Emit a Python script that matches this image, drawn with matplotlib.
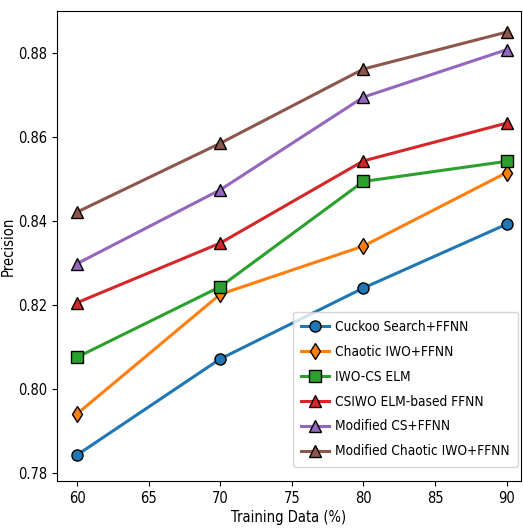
import matplotlib
matplotlib.use("Agg")
import matplotlib.pyplot as plt

training = [60, 70, 80, 90]
cuckoo = [0.7842, 0.8071, 0.8240, 0.8392]
chaotic_iwo = [0.7940, 0.8225, 0.8340, 0.8515]
iwo_cs_elm = [0.8075, 0.8243, 0.8494, 0.8542]
csiwo_elm = [0.8205, 0.8347, 0.8543, 0.8633]
modified_cs = [0.8298, 0.8474, 0.8695, 0.8808]
modified_chaotic = [0.8421, 0.8585, 0.8762, 0.8850]

labels = ["Cuckoo Search+FFNN", "Chaotic IWO+FFNN", "IWO-CS ELM",
          "CSIWO ELM-based FFNN", "Modified CS+FFNN", "Modified Chaotic IWO+FFNN"]
series = [cuckoo, chaotic_iwo, iwo_cs_elm, csiwo_elm, modified_cs, modified_chaotic]
markers = ["o", "d", "s", "^", "^", "^"]
colors = ["#1f77b4", "#ff7f0e", "#2ca02c", "#d62728", "#9467bd", "#8c564b"]

plt.rcParams['font.family'] = ['DejaVu Sans']
plt.rcParams['font.stretch'] = 'condensed'
fs = 10.5
lfs = 9.8

fig = plt.figure(figsize=(5.23, 5.30), dpi=100)
ax = fig.add_axes([0.109, 0.0925, 0.887, 0.8865])

for vals, lab, m, c in zip(series, labels, markers, colors):
    ax.plot(training, vals, marker=m, color=c, label=lab, linewidth=2.2,
            markersize=8, markeredgecolor="black", markeredgewidth=1.0)

ax.set_xlim(58.6, 91.0)
ax.set_ylim(0.778, 0.890)
ax.set_xticks([60, 65, 70, 75, 80, 85, 90])
ax.set_yticks([0.78, 0.80, 0.82, 0.84, 0.86, 0.88])
ax.tick_params(labelsize=fs)
ax.set_xlabel("Training Data (%)", fontsize=fs, labelpad=3)
ax.set_ylabel("Precision", fontsize=fs, labelpad=1.5)
ax.legend(loc="lower right", bbox_to_anchor=(1.0, 0.025), fontsize=lfs,
          handlelength=2.0, borderpad=0.6, labelspacing=0.8,
          handletextpad=0.5, borderaxespad=0.2)

fig.savefig("out.png", dpi=100)
